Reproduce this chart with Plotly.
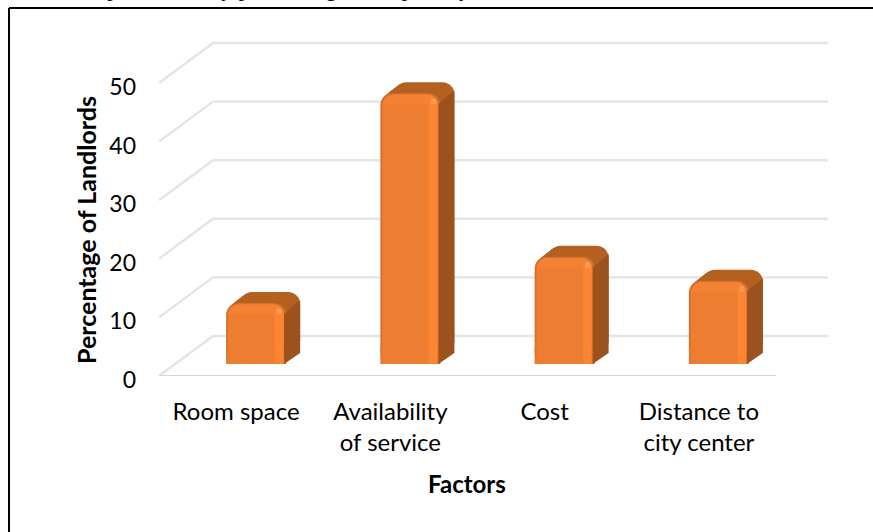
import plotly.graph_objects as go

categories = ["Room space", "Availability<br>of service", "Cost", "Distance to<br>city center"]
values = [10.4, 46.2, 18.3, 14.2]
tick_values = [0, 10, 20, 30, 40, 50]
x_title = "Factors"
y_title = "Percentage of Landlords"
clipped_line = "preference by processing of the priority"

W, H = 873, 532
L, R, T, B = 159, 828, 20, 376      # plot area in page pixels
PX = 154.25                          # pixels per category
PY = 5.86                            # pixels per value unit
DX, DY = 54 / PX, 40 / PY            # depth of the floor
BAR_W = 60 / PX
BAR_DX, BAR_DY = 14 / PX, 11 / PY    # depth of a bar
BAR_SHIFT = 20 / PX                  # bar front face sits behind the front of the floor
BAR_BASE = 12 / PY

pos = list(range(len(categories)))
xmin, xmax = -0.5, -0.5 + (R - L) / PX
ymax = (B - T) / PY

xp = lambda p: (p - L) / (R - L)
yp = lambda p: (B - p) / (B - T)

fig = go.Figure()

# walls and floor lines live on the lower axes, bars on the overlaying pair
GRID = "#E2E4E9"
front_right = xmin + 4
for v in tick_values:
    fig.add_trace(go.Scatter(
        x=[xmin, xmin + DX, xmax], y=[v, v + DY, v + DY], mode="lines",
        line=dict(color=GRID, width=2.4), hoverinfo="skip", showlegend=False))
fig.add_trace(go.Scatter(
    x=[xmin, front_right], y=[0.0, 0.0], mode="lines",
    line=dict(color="#D3D5DC", width=2), hoverinfo="skip", showlegend=False))

centers = [p + BAR_SHIFT for p in pos]

def bar(xs, ys, base, width, color, radius):
    fig.add_trace(go.Bar(
        x=xs, y=ys, base=base, width=width, xaxis="x2", yaxis="y2",
        marker=dict(color=color, line=dict(width=0), cornerradius=radius),
        hoverinfo="skip", showlegend=False))

# extrusion that gives the top face
N = 14
for i in range(N, 0, -1):
    t = i / N
    bar([c + BAR_DX * t for c in centers], values, [BAR_BASE + BAR_DY * t] * 4, BAR_W, "#B4601F", 12)

# side face
sx, sy = [], []
for c, v in zip(centers, values):
    right = c + BAR_W / 2
    top = BAR_BASE + v
    r = 9 / PY
    sx += [right - 2 / PX, right + BAR_DX, right + BAR_DX, right - 2 / PX, None]
    sy += [top - r * 1.2, top + BAR_DY - r * 0.9, BAR_BASE + BAR_DY, BAR_BASE, None]
fig.add_trace(go.Scatter(x=sx, y=sy, mode="lines", fill="toself", fillcolor="#9B521C",
                         xaxis="x2", yaxis="y2",
                         line=dict(width=0), hoverinfo="skip", showlegend=False))

# front face, built from the outside in
low = [3.0] * 4
bar(centers, values, [BAR_BASE] * 4, BAR_W, "#D4702B", 12)
bar(centers, low, [BAR_BASE] * 4, BAR_W, "#E2762E", 0)
bar(centers, [v - 0.2 for v in values], [BAR_BASE] * 4, BAR_W - 4 / PX, "#F58134", 11)
bar(centers, low, [BAR_BASE] * 4, BAR_W - 4 / PX, "#ED7D31", 0)
bar([c + BAR_W / 2 - 8 / PX for c in centers], [v - 1.6 for v in values], [BAR_BASE] * 4, 9 / PX, "#FC8534", 3)
bar([c + BAR_W / 2 - 8 / PX for c in centers], low, [BAR_BASE] * 4, 9 / PX, "#FC8534", 0)
bar([c - 4.5 / PX for c in centers], [v - 1.9 for v in values], [BAR_BASE] * 4, BAR_W - 14 / PX, "#ED7D31", 3)
bar([c - 4.5 / PX for c in centers], low, [BAR_BASE] * 4, BAR_W - 14 / PX, "#ED7D31", 0)

# small specular spot on each bar
fig.add_trace(go.Scatter(
    x=[c + BAR_W / 2 - 7 / PX for c in centers],
    y=[BAR_BASE + v - 1.4 for v in values],
    xaxis="x2", yaxis="y2",
    mode="markers", marker=dict(color="#FFA15E", size=6, opacity=0.75, line=dict(width=0)),
    hoverinfo="skip", showlegend=False))

FONT = "Lato, 'Noto Sans', sans-serif"
TEXT = "#000000"

fig.update_layout(
    width=W, height=H,
    margin=dict(l=L, r=W - R, t=T, b=H - B, pad=0),
    paper_bgcolor="white", plot_bgcolor="white",
    barmode="overlay", showlegend=False,
    font=dict(family=FONT, color=TEXT, size=24),
    xaxis=dict(range=[xmin, xmax], tickmode="array", tickvals=pos, ticktext=categories,
               showgrid=False, zeroline=False, showline=False, ticks="",
               ticklabelstandoff=19, tickfont=dict(size=24, family=FONT, color=TEXT)),
    yaxis=dict(range=[0, ymax], tickmode="array", tickvals=tick_values,
               ticktext=[str(v) for v in tick_values], showgrid=False, zeroline=False,
               showline=False, ticks="", ticklabelstandoff=22, ticklabelshift=4,
               tickfont=dict(size=23, family=FONT, color=TEXT)),
    xaxis2=dict(range=[xmin, xmax], overlaying="x", visible=False),
    yaxis2=dict(range=[0, ymax], overlaying="y", visible=False),
    shapes=[
        dict(type="line", xref="paper", yref="paper", x0=xp(9), x1=xp(873), y0=yp(8), y1=yp(8),
             line=dict(color="black", width=2)),
        dict(type="line", xref="paper", yref="paper", x0=xp(9), x1=xp(9), y0=yp(8), y1=yp(532),
             line=dict(color="black", width=2)),
    ],
    annotations=[
        dict(text=f"<b>{x_title}</b>", xref="paper", yref="paper", x=xp(467), y=yp(483),
             showarrow=False, xanchor="center", yanchor="middle", font=dict(size=24, family=FONT, color=TEXT)),
        dict(text=f"<b>{y_title}</b>", xref="paper", yref="paper", x=xp(86), y=yp(230),
             textangle=-90, showarrow=False, xanchor="center", yanchor="middle",
             font=dict(size=25, family=FONT, color=TEXT)),
        dict(text=clipped_line, xref="paper", yref="paper", x=xp(106), y=yp(8),
             showarrow=False, xanchor="left", yanchor="bottom", borderpad=0, yshift=6,
             font=dict(size=23, family="'Liberation Serif', serif", color=TEXT)),
    ],
)

fig.write_html("out.html", config=dict(displayModeBar=False),
               post_script="document.body.style.margin='0';")
